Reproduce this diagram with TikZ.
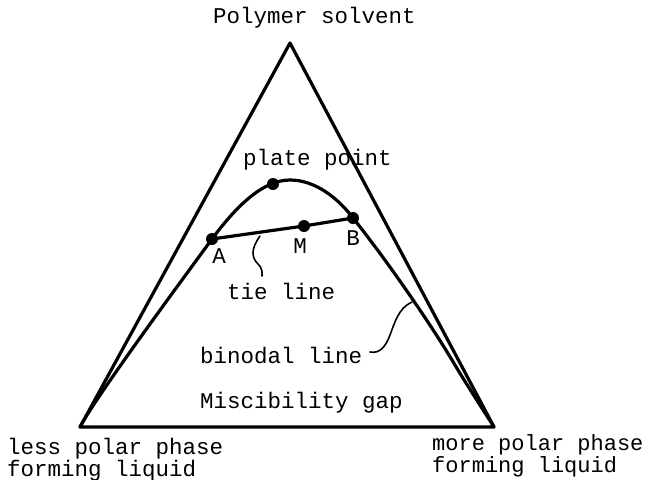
\documentclass[tikz,border=0pt]{standalone}
\usepackage{fontspec}
\setmainfont{Liberation Mono}
\begin{document}
\begin{tikzpicture}[x=1pt,y=-1pt,
  thick line/.style={line width=3.2pt,line join=round,line cap=round},
  leader/.style={line width=1.6pt,line cap=round},
  dotpt/.style={circle,fill=black,inner sep=0pt,minimum size=12pt},
  lbl/.style={font=\fontsize{22.5}{23}\selectfont,inner sep=0pt,anchor=base west},
  lblb/.style={font=\fontsize{22}{23}\selectfont,inner sep=0pt,anchor=base west},
  lblc/.style={font=\fontsize{22.5}{23}\selectfont,inner sep=0pt,anchor=base}]
\useasboundingbox (0,0) rectangle (649,480);
% triangle
\coordinate (T) at (290,43);
\coordinate (L) at (80,427);
\coordinate (R) at (494,427);
\draw[thick line] (T) -- (L) -- (R) -- cycle;
% binodal curve
\coordinate (Pk) at (290,180);
\coordinate (Q) at (452,360);
\draw[thick line] (L) .. controls (96,397) and (168,299) .. (212,239)
  .. controls (235,208) and (262,180) .. (Pk)
  .. controls (315,180) and (338,198) .. (353,218)
  .. controls (385,258) and (428,320) .. (Q)
  .. controls (465,382) and (480,405) .. (R);
% tie line
\node[dotpt] (A) at (212,239) {};
\node[dotpt] (M) at (304,226) {};
\node[dotpt] (B) at (353,218) {};
\node[dotpt] (P) at (273,184) {};
\draw[thick line] (A.center) -- (M.center) -- (B.center);
% leaders
\coordinate (t1) at (260,236);
\coordinate (t2) at (262,276);
\draw[leader] (t1) .. controls (250,250) and (252,258) .. (258,264) .. controls (263,269) and (262,273) .. (t2);
\coordinate (b1) at (412,302);
\coordinate (b2) at (370,352);
\draw[leader] (b1) .. controls (398,308) and (394,325) .. (390,335) .. controls (386,346) and (380,354) .. (b2);
% labels
\node[lbl] (ps) at (213,23) {Polymer solvent};
\node[lbl] (pp) at (243,165) {plate point};
\node[lblc] (la) at (219,263) {A};
\node[lblc] (lm) at (300,253) {M};
\node[lblc] (lb) at (353,245) {B};
\node[lbl] (tl) at (227,299) {tie line};
\node[lbl] (bl) at (200,363) {binodal line};
\node[lbl] (mg) at (200,408) {Miscibility gap};
\node[lbl] (lp1) at (7,454) {less polar phase};
\node[lbl] (lp2) at (7,476) {forming liquid};
\node[lblb] (mp1) at (432,450) {more polar phase};
\node[lblb] (mp2) at (432,472) {forming liquid};
\end{tikzpicture}
\end{document}
